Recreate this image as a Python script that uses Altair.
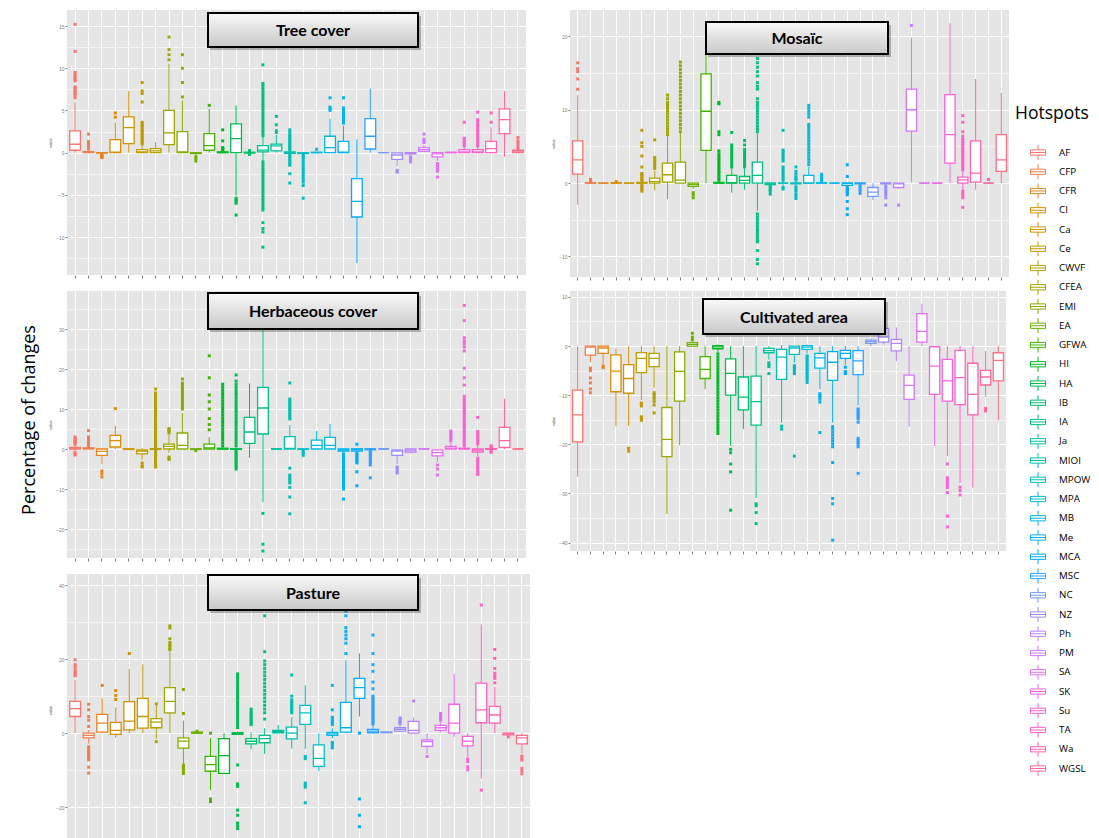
import math
import altair as alt
import pandas as pd

# ---------------------------------------------------------------- categories
HOTSPOTS = ["AF", "CFP", "CFR", "CI", "Ca", "Ce", "CWVF", "CFEA", "EMI", "EA",
            "GFWA", "HI", "HA", "IB", "IA", "Ja", "MIOI", "MPOW", "MPA", "MB",
            "Me", "MCA", "MSC", "NC", "NZ", "Ph", "PM", "SA", "SK", "Su",
            "TA", "Wa", "WGSL", "FEA"]
LEGEND_SHOWN = HOTSPOTS[:33]

# ---------------------------------------------------------------- Tree cover
TREE_LO = [0, 0, -0.15, 0, 0, 0, -0.05, 0, 0, -0.4, 0, -0.05, -5.1, -0.1, -1.0, 0, -0.2,
           -0.2, 0, 0, 0, -13.1, 0, 0, -1.6, -0.2, 0.1, -1.0, 0, 0, 0, 0, -0.5, 0]
TREE_Q1 = [0.28, 0, -0.06, 0, 1.07, 0, 0, 0.95, 0, -0.1, 0.28, 0, 0, -0.05, 0.08, 0.2, -0.08,
           -0.1, 0, 0, 0, -7.63, 0.43, 0, -0.8, -0.15, 0.15, -0.5, 0, 0, 0, 0, 2.25, 0]
TREE_MED = [0.99, 0.02, 0, 0.05, 2.96, 0.1, 0.2, 2.33, 0.08, 0, 0.83, 0, 1.66, 0, 0.3, 0.8, 0,
            0, 0, 0.6, 0.05, -5.77, 1.94, 0, -0.28, -0.05, 0.35, -0.15, 0, 0.1, 0.1, 0.47, 3.9, 0.1]
TREE_Q3 = [2.57, 0.12, 0, 1.54, 4.23, 0.35, 0.47, 5.0, 2.5, 0, 2.25, 0.1, 3.4, 0.05, 0.83, 1.0, 0.08,
           0, 0.05, 1.94, 1.34, -3.08, 4.03, 0, -0.04, 0, 0.6, 0, 0.05, 0.35, 0.35, 1.34, 5.18, 0.28]
TREE_HI = [6.0, 0.3, 0, 3.56, 7.3, 0.8, 1.26, 10.55, 6.2, 0, 5.2, 0.2, 5.6, 0.1, 1.9, 2.1, 0.2,
           0.05, 0.1, 4.0, 3.2, 1.55, 7.6, 0, 0, 0, 0.9, 0, 0.1, 0.7, 0.7, 3.0, 7.3, 0.4]
TREE_OUT = [
    [6.5, 6.8, 7.0, 7.2, 7.4, 7.6, 7.8, 8.5, 8.7, 8.9, 9.2, 9.5, 12.0, 15.2],
    [0.45, 0.6, 0.9, 1.2, 1.3, 2.2],
    [-0.25, -0.35, -0.45, -0.55, -0.6],
    [4.2, 4.7],
    [],
    [1.0, 1.2, 1.4, 1.6, 1.8, 2.0, 2.2, 2.4, 2.6, 2.8, 3.0, 3.2, 3.4, 3.6, 6.0, 7.0, 7.3, 8.3],
    [],
    [11.0, 11.6, 12.2, 13.7],
    [6.6, 8.3, 10.0, 11.6],
    [-0.5, -0.7, -1.0],
    [5.6],
    [0.3, 0.4, 0.5, 0.6, 1.4, 2.7],
    [-5.4, -5.6, -5.8, -6.0, -7.4],
    [-0.2, -0.15, 0.15, 0.25],
    [2.0, 2.3, 2.6, 2.9, 3.2, 3.5, 3.8, 4.1, 4.4, 4.7, 5.0, 5.3, 5.6, 5.9, 6.2, 6.5, 6.8, 7.1,
     7.4, 7.7, 8.0, 8.2, 10.4, -1.1, -1.4, -1.7, -2.0, -2.3, -2.6, -2.9, -3.2, -3.5, -3.8,
     -4.1, -4.4, -4.7, -5.0, -5.3, -5.6, -5.9, -6.2, -6.5, -6.8, -8.3, -9.0, -9.4, -11.2],
    [2.4, 2.6, 3.3, 4.3],
    [0.3, 0.5, 0.7, 0.9, 1.1, 1.3, 1.5, 1.7, 1.9, 2.1, 2.4, 2.7, -0.3, -0.5, -0.7, -0.9,
     -1.1, -1.3, -1.5, -2.5, -3.6],
    [-0.3, -0.5, -0.8, -1.1, -1.4, -1.7, -2.0, -2.3, -2.6, -2.9, -3.2, -3.5, -3.9, -5.4],
    [0.4],
    [5.0, 5.2, 5.4, 6.5],
    [3.5, 3.7, 3.9, 4.1, 4.3, 4.5, 4.7, 5.0, 5.3, 6.5],
    [],
    [],
    [],
    [-2.1, -2.3],
    [-0.5, -0.8, -1.1],
    [1.2, 1.4, 1.6, 2.2],
    [-1.3, -1.5, -1.7, -2.0, -2.2, -2.9],
    [],
    [0.8, 1.0, 1.2, 1.4, 1.6, 1.7, 3.6],
    [0.8, 1.0, 1.3, 1.6, 1.9, 2.2, 2.5, 2.8, 3.1, 3.4, 3.7, 3.9, 4.8],
    [3.6, 4.7],
    [],
    [0.5, 0.8, 1.1, 1.4, 1.8],
]

# ---------------------------------------------------------------- Mosaic
MOS_LO = [-2.95, 0, 0, 0, 0, -0.1, -1.0, -2.2, 0, -0.8, 0, 0, -1.3, -0.9, -3.8, -0.3, -0.5,
          -0.3, 0, 0, 0, -0.4, -0.3, -2.3, -0.3, -0.8, 0.1, 0, 0, 0, -0.9, -0.9, 0, 0]
MOS_Q1 = [1.23, 0, 0, 0, 0, 0, 0, 0.14, 0, -0.45, 4.45, 0, 0, 0, 0, -0.2, 0, -0.1, 0, 0, 0,
          -0.3, -0.1, -1.82, -0.1, -0.6, 7.1, 0, 0, 2.73, 0, 0.14, 0, 1.6]
MOS_MED = [3.18, 0, 0, 0, 0, 0, 0.2, 1.14, 0.4, -0.2, 9.8, 0, 0.05, 0.36, 1.05, 0, 0, 0, 0, 0,
           0, 0, 0, -1.23, 0, -0.1, 10.0, 0, 0, 6.6, 0.45, 1.36, 0, 3.18]
MOS_Q3 = [5.77, 0.05, 0, 0.05, 0, 0.1, 0.68, 2.73, 2.86, 0, 14.9, 0.1, 1.05, 0.9, 2.86, 0, 0,
          0, 1.05, 0.05, 0, 0, 0, -0.6, 0, 0, 12.8, 0, 0, 12.05, 0.82, 5.77, 0, 6.6]
MOS_HI = [12.0, 0.1, 0, 0.1, 0, 0.2, 1.7, 6.4, 6.8, 0, 17.8, 0.2, 2.0, 2.0, 6.8, 0, 0.3, 0.2,
          2.2, 0.1, 0, 0, 0, 0, 0, 0, 19.8, 0, 0, 21.8, 1.6, 14.2, 0.1, 12.3]
MOS_OUT = [
    [12.8, 14.2, 15.2, 15.6, 16.4],
    [0.3, 0.5],
    [],
    [0.2],
    [],
    [-1.1, -0.9, -0.7, -0.5, -0.3, 0.3, 0.5, 0.7, 0.9, 1.1, 1.3, 2.2, 3.7, 5.0, 5.5, 7.2],
    [2.0, 2.3, 2.6, 2.9, 3.2, 3.5, 5.9],
    [6.6, 7.0, 7.4, 7.8, 8.2, 8.6, 9.0, 9.4, 9.8, 10.2, 10.6, 11.0, 11.5, 12.0],
    [7.0, 7.5, 8.0, 8.5, 9.0, 9.5, 10.0, 10.5, 11.0, 11.5, 12.0, 12.5, 13.0, 13.5, 14.0, 14.5,
     15.0, 15.5, 16.0, 16.5],
    [-1.3, -1.6, -2.0],
    [],
    [0.4, 0.7, 1.0, 1.3, 1.6, 1.9, 2.2, 2.5, 2.8, 3.1, 3.4, 3.7, 4.0, 4.4, 6.6, 7.0, 10.8, 11.0],
    [2.2, 2.5, 2.8, 3.1, 3.4, 3.7, 4.0, 4.3, 4.6, 4.9, 5.2, 6.9],
    [2.2, 2.5, 2.8, 3.1, 3.4, 3.7, 4.0, 4.3, 4.6, 5.2, 5.8],
    [7.0, 7.4, 7.8, 8.2, 8.6, 9.0, 9.4, 9.8, 10.2, 10.6, 11.0, 11.5, 12.8, 13.2, 13.7, 14.6,
     15.2, 15.8, 16.4, 17.0, -4.2, -4.6, -5.0, -5.4, -5.8, -6.2, -6.6, -7.0, -7.4, -7.8,
     -8.0, -9.2, -10.4, -11.0],
    [-0.4, -0.6, -0.8, -1.0, -1.2, -1.5],
    [-0.8, -0.6, 0.4, 0.7, 1.0, 1.3, 1.6, 1.9, 2.2, 3.0, 3.3, 3.6, 3.9, 4.2, 4.5, 7.2],
    [-0.5, -0.8, -1.1, -1.5, -1.8, -2.1, 0.4, 0.6, 0.8, 1.2, 1.6, 2.2],
    [2.5, 2.9, 3.3, 3.7, 4.1, 4.5, 4.9, 5.3, 5.7, 6.1, 6.5, 6.9, 7.3, 7.7, 8.0, 9.0, 9.4,
     9.8, 10.2, 10.6],
    [0.2, 0.4, 0.6, 0.8, 1.0, 1.2],
    [],
    [-0.6, -0.8, -1.0, -1.2, -1.4, -1.6, -2.5, -3.5, -4.3, 0.9, 2.5],
    [-0.4, -0.7, -1.0, -1.4],
    [],
    [-0.4, -0.7, -1.0, -1.3, -1.6, -2.0, -3.0],
    [-3.0],
    [21.5],
    [],
    [],
    [],
    [1.8, 2.1, 2.4, 2.7, 3.0, 3.3, 3.6, 3.9, 4.2, 4.5, 4.8, 5.1, 5.4, 5.7, 6.0, 6.4, 7.0,
     8.3, 9.2, -1.1, -1.4, -1.7, -2.0, -3.3],
    [],
    [0.5],
    [],
]

# ---------------------------------------------------------------- Herbaceous cover
HERB_LO = [-0.5, 0, -3.8, 0, -0.2, -2.7, -0.3, -1.0, 0, -0.2, 0, -0.1, -0.3, -2.2, -13.3, 0,
           0, -0.3, 0, 0, -0.8, -0.8, -0.4, 0, -3.8, -1.1, 0, -3.3, 0, 0, -1.8, -0.3, 0, 0]
HERB_Q1 = [0, 0, -1.6, 0.5, -0.1, -1.2, -0.1, 0, 0, -0.1, 0, 0, -0.1, 1.4, 3.75, 0, 0, -0.1,
           0, 0, -0.5, -0.5, -0.2, 0, -1.6, -0.75, 0, -1.7, 0, 0, -0.75, -0.1, 0.4, 0]
HERB_MED = [0.2, 0.1, -0.6, 2.1, 0, -0.5, 0, 0.67, 0.9, 0, 0.3, 0, 0, 4.25, 10.25, 0, 0.15,
            0, 0.9, 0.9, -0.2, -0.1, 0, 0, -0.5, -0.3, 0, -0.9, 0.2, 0.05, -0.25, 0, 2.1, 0]
HERB_Q3 = [0.4, 0.3, 0, 3.4, 0, -0.2, 0.1, 1.2, 4.0, 0, 1.2, 0.2, 0.1, 7.9, 15.4, 0, 3.1, 0,
           2.2, 2.9, 0, 0, 0, 0, -0.2, 0, 0, -0.2, 0.67, 0.2, 0, 0.1, 5.4, 0]
HERB_HI = [0.9, 0.6, 0, 5.8, 0, 0.2, 0.3, 3.5, 9.0, 0, 3.0, 0.5, 0.4, 16.4, 30.5, 0, 6.0, 0,
           4.5, 6.3, 0, 0.3, 0.1, 0, 0, 0, 0, 0, 1.5, 0.5, 1.0, 0.3, 12.6, 0]
HERB_OUT = [
    [-1.5, -1.2, -0.9, 1.2, 1.5, 1.8, 2.1, 2.4, 2.7, 3.0],
    [0.8, 1.1, 1.4, 1.7, 2.0, 2.3, 2.6, 3.0, 4.6],
    [-5.5, -6.2, -7.0],
    [10.1],
    [],
    [-3.5, -4.2, -4.5],
    [-4.5, -4.0, -3.5, -3.0, -2.5, -2.0, -1.5, -1.0, -0.6, 0.6, 1.0, 1.5, 2.0, 2.5, 3.0, 3.5,
     4.0, 4.5, 5.0, 5.5, 6.0, 6.5, 7.0, 7.5, 8.0, 8.5, 9.0, 9.5, 10.0, 10.5, 11.0, 11.5, 12.0,
     12.5, 13.0, 13.5, 14.0, 15.0],
    [4.0, 4.5, 4.8, 5.1, -2.0, -2.3, -2.6],
    [10.0, 10.5, 11.0, 11.5, 12.0, 12.5, 13.0, 13.5, 14.0, 14.5, 15.0, 15.5, 16.0, 16.5, 17.5],
    [-0.4],
    [4.8, 6.1, 7.6, 10.0, 11.8, 13.5, 17.8, 23.3],
    [0.8, 1.5, 2.2, 2.9, 3.6, 4.3, 5.0, 5.7, 6.4, 7.1, 7.8, 8.5, 9.2, 9.9, 10.6, 11.3, 12.0,
     12.7, 13.4, 14.1, 14.8, 15.5, 16.2],
    [-5.0, -4.5, -4.0, -3.5, -3.0, -2.5, -2.0, -1.5, -1.0, -0.6, 0.8, 1.5, 2.2, 2.9, 3.6, 4.3,
     5.0, 5.7, 6.4, 7.1, 7.8, 8.5, 9.2, 9.9, 10.6, 11.3, 12.0, 12.7, 13.4, 14.1, 14.8, 15.5,
     16.2, 17.0, 18.5],
    [],
    [-16.1, -23.8, -25.5],
    [],
    [7.5, 8.0, 8.5, 9.0, 9.5, 10.0, 10.5, 11.0, 11.5, 12.0, 12.5, 16.5, -4.8, -6.5, -7.0,
     -7.5, -8.0, -8.5, -9.6, -12.0, -16.2],
    [-0.5, -1.0, -1.6],
    [],
    [],
    [-1.2, -1.8, -2.4, -3.0, -3.6, -4.2, -4.8, -5.4, -6.0, -6.6, -7.2, -7.8, -8.4, -9.0, -9.6,
     -10.0, -12.5],
    [-1.1, -1.5, -1.9, -2.3, -2.7, -3.1, -3.5, -5.7, -9.2, 1.2],
    [-0.6, -1.0, -1.5, -2.0, -2.5, -3.0, -3.5, -4.0, -7.2],
    [],
    [-4.5, -5.0, -5.5, -6.0],
    [],
    [],
    [-4.0, -5.0, -6.5],
    [2.0, 2.5, 3.0, 3.5, 4.0, 4.5],
    [0.8, 1.2, 1.6, 2.0, 2.5, 3.0, 3.5, 4.0, 4.5, 5.0, 5.5, 6.0, 6.5, 7.0, 7.5, 8.0, 8.5, 9.0,
     9.5, 10.0, 10.5, 11.0, 11.5, 12.0, 12.5, 13.2, 16.0, 17.8, 20.2, 24.5, 25.5, 26.3, 27.0,
     27.8, 32.1, 35.9],
    [1.3, 1.8, 2.3, 2.8, 3.3, 3.8, 4.4, 7.9, -2.3, -2.8, -3.3, -3.8, -4.3, -4.8, -5.3, -5.8,
     -6.4],
    [-0.6, -0.8, 0.5, 0.8],
    [],
    [],
]

# ---------------------------------------------------------------- Cultivated area
CULT_LO = [-26.6, -3.3, -3.8, -16.3, -16.3, -11.0, -8.5, -34.2, -20.2, 0, -8.8, -1.3, -20.3,
           -16.9, -30.9, -2.8, -15.6, -3.4, -1.5, -8.8, -15.6, -3.8, -12.1, 0, 0.3, -3.1,
           -16.4, 0, -20.3, -22.4, -27.9, -28.8, -10.3, -15.1]
CULT_Q1 = [-19.5, -1.83, -1.5, -9.3, -9.6, -5.4, -4.2, -22.5, -11.2, 0, -6.6, -0.55, -10.0,
           -13.0, -16.1, -1.36, -6.8, -1.7, -0.68, -4.5, -7.0, -2.5, -5.8, 0.54, 0.8, -1.0,
           -10.85, 0.8, -9.83, -11.2, -11.9, -14.0, -7.93, -7.1]
CULT_MED = [-14.0, -0.2, -0.4, -5.1, -6.6, -2.5, -2.5, -19.0, -5.15, 0.35, -4.75, -0.15, -5.56,
            -10.4, -11.3, -0.95, -2.24, -0.4, -0.2, -2.4, -3.3, -1.5, -3.0, 0.88, 1.83, 0.54,
            -8.0, 3.0, -4.07, -7.1, -6.44, -9.83, -6.3, -2.9]
CULT_Q3 = [-8.95, 0, 0, -1.8, -3.8, -1.35, -1.5, -12.5, -1.2, 0.68, -2.17, 0.1, -2.6, -6.3,
           -6.1, -0.47, -0.68, 0, 0.1, -1.5, -1.15, -0.88, -0.95, 1.22, 3.6, 1.36, -5.9, 6.58,
           -0.14, -2.7, -0.88, -3.5, -4.95, -1.36]
CULT_HI = [0, 0, 0, -0.5, 0, 0, 0, 0, 0, 1.0, 0, 0.3, 0, 0, 0, 0, 0.2, 0, 0.3, 0, 0, 0, 0,
           1.5, 3.7, 3.8, 0, 8.6, 0, 0, 0, 0, -1.0, 0]
CULT_OUT = [
    [],
    [-4.5, -5.0, -6.5, -7.5, -8.7, -9.5],
    [-4.1, -4.4],
    [],
    [-20.8, -21.4],
    [-11.6, -11.9, -12.2, -14.4, -14.8, -15.1],
    [-9.5, -9.9, -10.3, -10.7, -11.3, -12.0, -13.6],
    [],
    [],
    [1.3, 1.8, 2.6],
    [],
    [-1.6, -2.2, -2.8, -3.4, -4.0, -4.6, -5.2, -5.8, -6.4, -7.0, -7.6, -8.2, -8.8, -9.4, -10.0,
     -10.6, -11.2, -11.8, -12.4, -13.0, -13.6, -14.2, -14.8, -15.4, -16.0, -16.6, -17.2, -17.8],
    [-21.0, -21.7, -24.0, -25.6, -33.4],
    [],
    [-32.1, -32.5, -33.9, -36.1],
    [-3.4, -3.8, -4.2, -5.6],
    [-16.3, -16.9],
    [-4.0, -4.3, -4.6, -4.9, -5.2, -5.6, -22.4],
    [-2.0, -2.4, -2.8, -3.2, -3.6, -4.0, -4.4, -4.8, -5.2, -5.6, -6.0, -6.4, -6.8, -7.4],
    [-9.7, -10.0, -10.4, -10.8, -11.4, -17.6],
    [-16.4, -16.9, -17.5, -18.1, -18.7, -19.3, -19.9, -20.5, -23.7, -31.0, -32.1, -39.5],
    [-4.3, -5.2, -5.6],
    [-12.8, -13.2, -13.6, -14.0, -14.4, -14.8, -15.5, -18.8, -19.2, -19.6, -20.0, -20.5, -25.9],
    [],
    [],
    [],
    [],
    [],
    [],
    [-24.0, -26.8, -27.3, -27.8, -28.3, -28.8, -29.8, -34.6, -36.8],
    [-28.7, -29.4, -30.3],
    [],
    [-12.7, -13.2],
    [],
]

# ---------------------------------------------------------------- Pasture
PAST_LO = [0, -2.9, 0, -1.3, 0, 0, -1.5, 0, -8.2, 0, -15.4, -10.9, -0.5, -4.3, -5.6, 0, -4.2,
           -4.3, -10.3, -1.4, 0, 4.5, 0, 0.1, 0.3, 0, -5.6, 0.2, -1.0, -6.5, -12.3, 0, -0.9, -5.5]
PAST_Q1 = [4.5, -1.27, 0.27, -0.36, 0.9, 1.36, 1.45, 5.5, -4.07, 0, -10.3, -10.9, -0.3, -2.9,
           -2.6, 0.1, -1.54, 2.35, -9.0, -0.6, 0.27, 9.4, 0.1, 0.1, 0.54, 0, -3.6, 0.72, 0,
           -3.44, 2.8, 2.7, -0.45, -2.9]
PAST_MED = [6.6, -0.6, 2.7, 0.72, 3.26, 4.5, 3.0, 8.6, -2.17, 0.1, -8.5, -6.1, 0, -2.2, -1.5,
            0.45, 0, 5.5, -6.8, -0.2, 1.45, 12.3, 0.54, 0.2, 1.0, 0.72, -2.26, 1.45, 2.7, -2.17,
            6.3, 4.9, -0.2, -1.27]
PAST_Q3 = [8.6, 0, 5.07, 2.9, 8.5, 9.4, 3.9, 12.3, -1.27, 0.3, -6.3, -1.5, 0.1, -1.5, -0.63,
           0.72, 1.63, 7.5, -3.2, 0.2, 8.3, 14.8, 1.0, 0.3, 1.45, 3.17, -1.8, 2.1, 7.8, -0.9,
           13.5, 7.24, 0, -0.63]
PAST_HI = [14.4, 0.9, 9.4, 7.0, 17.4, 18.6, 7.5, 22.2, 3.4, 0.3, -1.3, 0, 0.5, 0.2, 1.3, 2.2,
           4.3, 12.9, 0, 1.3, 19.7, 21.5, 2.2, 0.3, 2.0, 4.2, 0, 3.0, 16.0, 0, 29.4, 12.5, 0, 0]
PAST_OUT = [
    [15.5, 16.0, 16.4, 17.0, 17.8, 18.5, 19.8],
    [-3.7, -4.2, -4.7, -5.2, -5.7, -6.2, -6.7, -7.2, -9.2, -10.8, 1.8, 3.5, 4.5, 6.3, 7.8],
    [12.9],
    [9.1, 10.2, 11.5],
    [21.5],
    [],
    [7.9, -2.3],
    [22.6, 23.0, 23.5, 24.0, 24.5, 25.5, 28.4, 29.0],
    [5.3, 11.8, -8.6, -9.0, -9.4, -9.8, -10.2, -10.6, -10.9],
    [0.5],
    [0, -17.8, -18.5],
    [],
    [1.5, 2.2, 2.9, 3.6, 4.3, 5.0, 5.7, 6.4, 7.1, 7.8, 8.5, 9.2, 9.9, 10.6, 11.3, 12.0, 12.7,
     13.4, 14.1, 14.8, 15.5, 16.0, -8.6, -13.7, -14.4, -20.8, -22.2, -24.3, -25.0, -25.8],
    [2.3, 2.8, 3.3, 3.8, 4.3, 4.8, 5.3, 5.8, 6.5],
    [3.8, 5.5, 6.5, 7.5, 8.5, 9.5, 10.5, 11.5, 12.5, 13.5, 14.5, 15.5, 16.5, 17.5, 18.5, 19.5,
     22.0, 31.7],
    [],
    [5.5, 6.0, 6.5, 7.0, 7.5, 8.0, 8.5, 9.0, 10.0, 15.7],
    [-6.3, -6.9, -13.5, -14.0, -14.6, -18.8],
    [],
    [2.3, 2.7, 3.1, 3.5, 3.9, 4.3, 6.3, 12.9, -2.5, -3.0, -3.5, -4.0],
    [21.5, 24.3, 25.5, 26.5, 27.5, 28.5, 31.7, 33.0],
    [0, -17.8, -22.2, -25.3],
    [2.5, 3.0, 3.5, 4.0, 4.5, 5.0, 5.5, 6.0, 6.5, 7.0, 7.5, 8.0, 8.5, 9.0, 9.5, 10.0, 12.0,
     13.8, 16.7, 18.5, 21.5, 26.5],
    [],
    [2.5, 2.9, 3.3, 3.7, 4.1],
    [8.7],
    [-6.3],
    [3.5, 3.9, 4.3, 4.7, 5.3],
    [],
    [-7.0, -7.7, -9.1, -9.9],
    [34.6, -15.4],
    [13.6, 14.8, 15.5, 16.2, 17.5, 20.2, 22.6],
    [-1.0],
    [-6.2, -6.7, -7.3, -9.5, -10.2, -11.0],
]

# ---------------------------------------------------------------- axis tick values
TREE_TICKS = [-12.5, -10, -7.5, -5, -2.5, 0, 2.5, 5, 7.5, 10, 12.5, 15]
MOS_TICKS = [-10, -5, 0, 5, 10, 15, 20]
HERB_TICKS = [-25, -20, -15, -10, -5, 0, 5, 10, 15, 20, 25, 30, 35]
CULT_TICKS = [-40, -35, -30, -25, -20, -15, -10, -5, 0, 5, 10]
PAST_TICKS = [-30, -20, -10, 0, 10, 20, 30, 40]


# ---------------------------------------------------------------- ggplot hue palette
def hcl_hex(h, c=100.0, l=65.0):
    hr = math.radians(h)
    u, v = c * math.cos(hr), c * math.sin(hr)
    xn, yn, zn = 95.047, 100.0, 108.883
    den = xn + 15 * yn + 3 * zn
    un, vn = 4 * xn / den, 9 * yn / den
    y = yn * ((l + 16) / 116) ** 3
    up, vp = u / (13 * l) + un, v / (13 * l) + vn
    x = y * 9 * up / (4 * vp)
    z = y * (12 - 3 * up - 20 * vp) / (4 * vp)
    x, y, z = x / 100, y / 100, z / 100
    r = 3.240479 * x - 1.537150 * y - 0.498535 * z
    g = -0.969256 * x + 1.875992 * y + 0.041556 * z
    b = 0.055648 * x - 0.204043 * y + 1.057311 * z

    def gam(t):
        t = min(max(t, 0.0), 1.0)
        return 12.92 * t if t <= 0.0031308 else 1.055 * t ** (1 / 2.4) - 0.055

    return "#%02X%02X%02X" % tuple(int(round(255 * gam(t))) for t in (r, g, b))


N = len(HOTSPOTS)
PALETTE = [hcl_hex(15 + 360.0 * i / N) for i in range(N)]
CSCALE = alt.Scale(domain=HOTSPOTS, range=PALETTE)
# same mapping, listed in reverse so that its legend is kept apart from the colour channel
SSCALE = alt.Scale(domain=HOTSPOTS[::-1], range=PALETTE[::-1])

BOX_PATH = "M-1,-0.35H1V0.35H-1Z M-1,0H1 M0,-0.35V-1 M0,0.35V1"
LEGEND = alt.Legend(
    title="Hotspots", values=LEGEND_SHOWN, orient="none", legendX=1007, legendY=95,
    symbolType=BOX_PATH, symbolSize=225, symbolStrokeWidth=1, symbolOffset=15,
    symbolFillColor="#FFFFFF", labelOffset=13, labelFont="Open Sans", labelFontSize=9.8,
    labelColor="#000000", titleFont="Open Sans", titleFontSize=17.5, titleFontWeight="normal",
    titleColor="#000000", titlePadding=22, rowPadding=-0.75, padding=0, labelLimit=60,
    symbolLimit=40)

GRAD = {"gradient": "linear", "x1": 0, "y1": 0, "x2": 0, "y2": 1,
        "stops": [{"offset": 0, "color": "#F9F9F9"}, {"offset": 1, "color": "#C8C8C8"}]}


def panel(lo, q1, med, q3, hi, out, domain, ticks, major, w, h, title, tb, xticks=True):
    box_df = pd.DataFrame({"hotspot": HOTSPOTS, "lo": lo, "q1": q1, "med": med,
                           "q3": q3, "hi": hi})
    rows = [(HOTSPOTS[i], v) for i, vals in enumerate(out) for v in vals]
    out_df = pd.DataFrame(rows, columns=["hotspot", "v"])

    xaxis = alt.Axis(labels=False, title=None, domain=False, ticks=xticks, tickSize=3,
                     tickColor="#7F7F7F", grid=True, gridColor="#FFFFFF", gridWidth=1,
                     bandPosition=0.5)
    yaxis = alt.Axis(
        values=ticks, title="value", titleFontSize=4, titleColor="#444444",
        titleFontWeight="normal", titlePadding=3, domain=False,
        labelExpr=f"datum.value % {major} === 0 ? datum.label : ''",
        labelFontSize=5, labelColor="#7F7F7F", labelPadding=1,
        tickColor="#7F7F7F", tickSize=2,
        tickOpacity={"condition": {"test": f"datum.value % {major} === 0", "value": 1},
                     "value": 0},
        gridColor={"condition": {"test": f"datum.value % {major} === 0", "value": "#FFFFFF"},
                   "value": "#F3F3F3"},
        gridWidth=1)
    X = alt.X("hotspot:N", sort=HOTSPOTS, axis=xaxis,
              scale=alt.Scale(domain=HOTSPOTS, paddingInner=0.2, paddingOuter=0.2))
    ysc = alt.Scale(domain=domain, nice=False, zero=False)
    col = alt.Color("hotspot:N", scale=CSCALE, legend=None)

    whisk = alt.Chart(box_df).mark_rule(strokeWidth=1, clip=True).encode(
        x=X, y=alt.Y("lo:Q", scale=ysc, axis=yaxis), y2="hi:Q", color=col)
    boxes = alt.Chart(box_df).mark_bar(fill="#FFFFFF", strokeWidth=1.3, clip=True).encode(
        x=X, y=alt.Y("q1:Q", scale=ysc, axis=yaxis), y2="q3:Q",
        stroke=alt.Stroke("hotspot:N", scale=SSCALE, legend=LEGEND))
    meds = alt.Chart(box_df).mark_bar(filled=False, strokeWidth=1.3, clip=True).encode(
        x=X, y=alt.Y("med:Q", scale=ysc, axis=yaxis), y2="med:Q", color=col)
    pts = alt.Chart(out_df).mark_square(size=9, opacity=1, clip=True).encode(
        x=X, y=alt.Y("v:Q", scale=ysc, axis=yaxis), color=col)

    x1, x2, y1, y2 = tb
    tdf = pd.DataFrame({"t": [title]})
    shadow = alt.Chart(tdf).mark_rect(fill="#000000", opacity=0.25).encode(
        x=alt.value(x1 + 2), x2=alt.value(x2 + 3), y=alt.value(y1 + 3), y2=alt.value(y2 + 3))
    frame = alt.Chart(tdf).mark_rect(fill=GRAD, stroke="#000000", strokeWidth=2).encode(
        x=alt.value(x1), x2=alt.value(x2), y=alt.value(y1), y2=alt.value(y2))
    label = alt.Chart(tdf).mark_text(font="Lato", fontWeight="bold", fontSize=16,
                                     color="#000000", align="center", baseline="middle").encode(
        text="t:N", x=alt.value((x1 + x2) / 2), y=alt.value((y1 + y2) / 2 + 1))

    return alt.layer(whisk, boxes, meds, pts, shadow, frame, label).properties(
        width=w, height=h, view=alt.ViewBackground(fill="#E5E5E5", stroke=None))


tree = panel(TREE_LO, TREE_Q1, TREE_MED, TREE_Q3, TREE_HI, TREE_OUT, [-14.5, 16.9],
             TREE_TICKS, 5, 459, 265, "Tree cover", (141, 351, 3, 37))
herb = panel(HERB_LO, HERB_Q1, HERB_MED, HERB_Q3, HERB_HI, HERB_OUT, [-27.25, 39.5],
             HERB_TICKS, 10, 459, 267, "Herbaceous cover", (141, 351, 2, 38))
past = panel(PAST_LO, PAST_Q1, PAST_MED, PAST_Q3, PAST_HI, PAST_OUT, [-30.5, 43],
             PAST_TICKS, 20, 463, 272, "Pasture", (141, 351, 1, 36), xticks=False)
mos = panel(MOS_LO, MOS_Q1, MOS_MED, MOS_Q3, MOS_HI, MOS_OUT, [-12.8, 23.6],
            MOS_TICKS, 10, 439, 267, "Mosaïc", (136, 318, 12, 44))
cult = panel(CULT_LO, CULT_Q1, CULT_MED, CULT_Q3, CULT_HI, CULT_OUT, [-41.7, 11.2],
             CULT_TICKS, 10, 436, 260, "Cultivated area", (133, 315, 8, 43))

ytitle = alt.Chart(pd.DataFrame({"t": ["Percentage of changes"]})).mark_text(
    angle=270, font="Open Sans", fontSize=18, color="#000000", align="center",
    baseline="middle").encode(text="t:N", x=alt.value(22), y=alt.value(410)).properties(
    width=31, height=780)

left_col = alt.vconcat(tree, herb, past, spacing=12)
right_col = alt.vconcat(mos, cult, spacing=10)
left_block = alt.hconcat(ytitle, left_col, spacing=9)

chart = alt.hconcat(left_block, right_col, spacing=21).properties(
    padding={"left": 0, "top": 2, "right": 0, "bottom": 0}
).configure_view(stroke=None)

chart.save("out.html", embed_options={"renderer": "svg", "actions": False})
